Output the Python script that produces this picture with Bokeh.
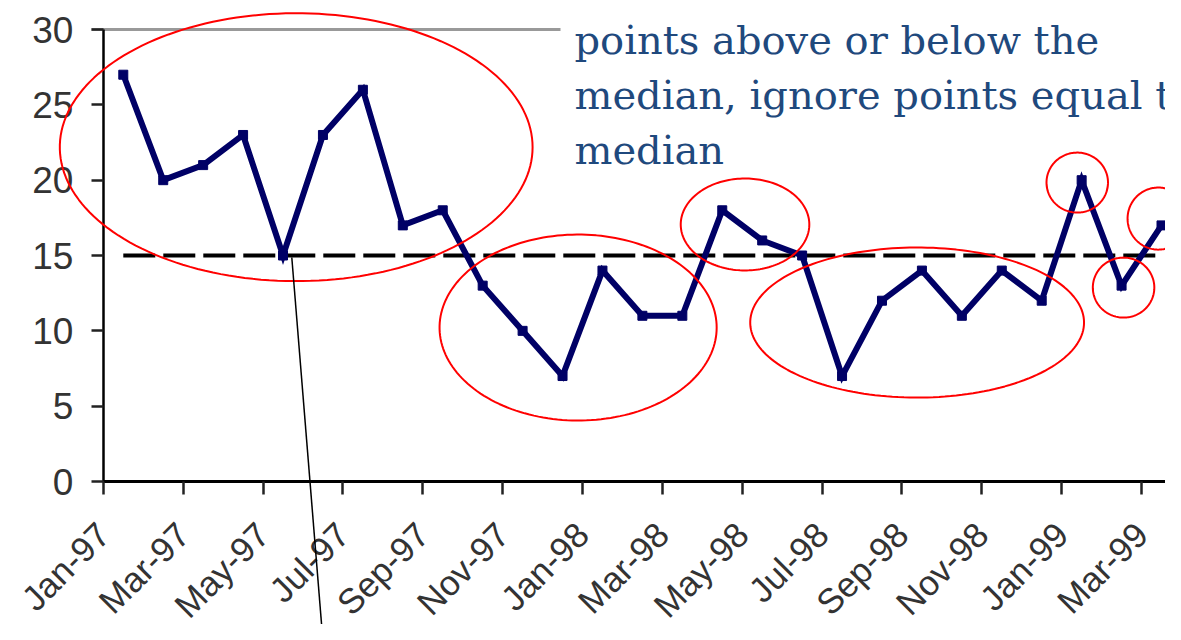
import numpy as np
from bokeh.plotting import figure
from bokeh.models import FixedTicker, Range1d, Label, PolyAnnotation, Arrow, LinearAxis
from bokeh.embed import file_html
from bokeh.resources import INLINE

# ---------------- data ----------------
months = ["Jan-97", "Feb-97", "Mar-97", "Apr-97", "May-97", "Jun-97", "Jul-97",
          "Aug-97", "Sep-97", "Oct-97", "Nov-97", "Dec-97",
          "Jan-98", "Feb-98", "Mar-98", "Apr-98", "May-98", "Jun-98", "Jul-98",
          "Aug-98", "Sep-98", "Oct-98", "Nov-98", "Dec-98",
          "Jan-99", "Feb-99", "Mar-99"]
values = [27, 20, 21, 23, 15, 23, 26, 17, 18, 13, 10, 7,
          14, 11, 11, 18, 16, 15, 7, 12, 14, 11, 14, 12,
          20, 13, 17]
median_value = 15
y_ticks = [0, 5, 10, 15, 20, 25, 30]
note_lines = ["points above or below the",
              "median, ignore points equal to",
              "median"]

# annotation ellipses (data units: centre x, centre y, radius x, radius y)
ell_cx = [4.33, 11.39, 15.57, 19.88, 23.89, 25.05, 25.92]
ell_cy = [22.19, 10.22, 17.06, 10.55, 19.84, 12.87, 17.45]
ell_rx = [5.92, 3.47, 1.61, 4.18, 0.77, 0.77, 0.77]
ell_ry = [8.89, 6.17, 3.05, 4.98, 1.99, 1.99, 2.06]

# pointer line (data units)
ptr_x = [4.22, 5.0]
ptr_y = [14.87, -10.6]

n = len(values)
xs = list(range(n))

p = figure(width=1165, height=624, output_backend="svg", toolbar_location=None,
           x_range=Range1d(-3.075, 26.1), y_range=Range1d(-9.49, 31.925),
           min_border_left=0, min_border_right=0, min_border_top=0,
           min_border_bottom=0)
p.outline_line_color = None
p.background_fill_color = "white"
p.xgrid.visible = False
p.ygrid.visible = False

# y axis (drawn at the start of the category range)
p.yaxis.fixed_location = -0.5
p.yaxis.bounds = (0, 30)
p.yaxis.ticker = FixedTicker(ticks=y_ticks)
p.yaxis.axis_line_color = "black"
p.yaxis.axis_line_width = 2.5
p.yaxis.major_tick_out = 12
p.yaxis.major_tick_in = 0
p.yaxis.major_tick_line_color = "#222222"
p.yaxis.major_tick_line_width = 2.5
p.yaxis.minor_tick_line_color = None
p.yaxis.major_label_standoff = 18
p.yaxis.major_label_text_font = "Liberation Sans"
p.yaxis.major_label_text_font_size = "37px"
p.yaxis.major_label_text_color = "#333333"

# x axis
tick_pos = [k - 0.5 for k in range(0, n, 2)]
p.xaxis.fixed_location = 0
p.xaxis.bounds = (-0.5, 26.1)
p.xaxis.ticker = FixedTicker(ticks=tick_pos)
p.xaxis.major_label_overrides = {k - 0.5: months[k] for k in range(0, n, 2)}
p.xaxis.major_label_orientation = np.pi / 4
p.xaxis.axis_line_color = "black"
p.xaxis.axis_line_width = 3
p.xaxis.major_tick_out = 13
p.xaxis.major_tick_in = 0
p.xaxis.major_tick_line_color = "#222222"
p.xaxis.major_tick_line_width = 2.5
p.xaxis.minor_tick_line_color = None
p.xaxis.major_label_standoff = 34
p.xaxis.major_label_text_font = "Liberation Sans"
p.xaxis.major_label_text_font_size = "35px"
p.xaxis.major_label_text_color = "#333333"

# top border line at 30 (partly hidden behind the note)
top_axis = LinearAxis(fixed_location=30, bounds=(-0.8, 10.95),
                      axis_line_color="#999999", axis_line_width=3,
                      major_tick_line_color=None, minor_tick_line_color=None,
                      major_label_text_alpha=0, major_label_text_font_size="1px")
p.add_layout(top_axis, "above")

# median dashed line
p.line(xs, [median_value] * n, line_color="black", line_width=4, line_dash="32 8")

# data series
p.line(xs, values, line_color="#000066", line_width=6, line_join="miter")
p.scatter(xs, values, marker="square", size=9, fill_color="#000066", line_color="#000066")

# note text
for i, t in enumerate(note_lines):
    p.add_layout(Label(x=11.3, y=29.33 - i * 3.65, text=t, text_font="DejaVu Serif",
                       text_font_size="40px", text_color="#1F497D",
                       text_baseline="alphabetic"))

# red ellipses
theta = np.linspace(0, 2 * np.pi, 180)
for cx, cy, rx, ry in zip(ell_cx, ell_cy, ell_rx, ell_ry):
    p.add_layout(PolyAnnotation(xs=list(cx + rx * np.cos(theta)), ys=list(cy + ry * np.sin(theta)),
                                fill_alpha=0, line_color="#ff0000", line_alpha=1.0, line_width=2))

# pointer line
p.add_layout(Arrow(end=None, x_start=ptr_x[0], y_start=ptr_y[0], x_end=ptr_x[1], y_end=ptr_y[1],
                   line_color="black", line_width=1.5))

open("out.html", "w").write(file_html(p, INLINE))
